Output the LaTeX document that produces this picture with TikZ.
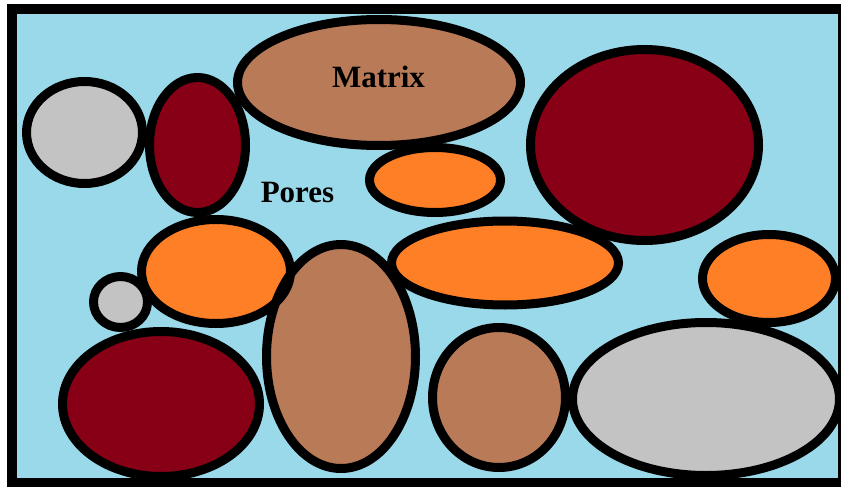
\documentclass[tikz,border=0pt]{standalone}
\usepackage{fontspec}
\setmainfont{Liberation Serif}
\definecolor{poreblue}{HTML}{99D9EA}
\definecolor{matrixtan}{HTML}{B97A57}
\definecolor{grainorange}{HTML}{FF7F27}
\definecolor{graindark}{HTML}{880015}
\definecolor{graingray}{HTML}{C3C3C3}
\tikzset{
  grain/.style={line width=9pt},
  label/.style={font=\bfseries\fontsize{31}{31}\selectfont, inner sep=0pt, anchor=base}
}
\begin{document}
\begin{tikzpicture}[x=1pt,y=-1pt]
\useasboundingbox (0,0) rectangle (841,487);
% frame and pore space
\fill[black] (7,4) rectangle (841,487);
\fill[poreblue] (17,14.5) rectangle (838,477.5);
\begin{scope}
\clip (7,4) rectangle (841,487);
% grains: centre, radii, colour
\foreach \cx/\cy/\rx/\ry/\col in {
  84.5/132.5/58/51/graingray,
  197.5/145/48/67.5/graindark,
  379/82.5/141.5/63/matrixtan,
  435/180/65.5/32.5/grainorange,
  644.5/145/114/95.5/graindark,
  216/271.5/74.5/52/grainorange,
  120.5/302/27/25.5/graingray,
  161/404/98.5/72.5/graindark,
  341/356.5/74.5/112/matrixtan,
  505/263/113.5/42/grainorange,
  769/278.5/66.5/44/grainorange,
  499/397.5/66.5/70/matrixtan,
  706/399/133.5/76.5/graingray}
  {\fill[\col] (\cx,\cy) ellipse [x radius=\rx, y radius=\ry];}
\foreach \cx/\cy/\rx/\ry in {
  84.5/132.5/58/51, 197.5/145/48/67.5, 379/82.5/141.5/63,
  435/180/65.5/32.5, 644.5/145/114/95.5, 216/271.5/74.5/52,
  120.5/302/27/25.5, 161/404/98.5/72.5, 341/356.5/74.5/112,
  505/263/113.5/42, 769/278.5/66.5/44, 499/397.5/66.5/70,
  706/399/133.5/76.5}
  {\draw[grain] (\cx,\cy) ellipse [x radius=\rx, y radius=\ry];}
\end{scope}
\node[label] (matrix) at (378.5,88) {Matrix};
\node[label] (pores) at (297.5,202) {Pores};
\end{tikzpicture}
\end{document}
